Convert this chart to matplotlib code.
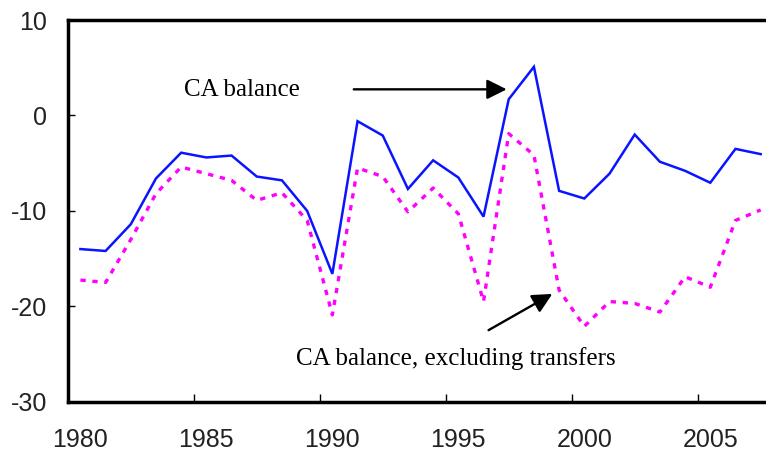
import matplotlib
matplotlib.use("Agg")
import matplotlib.pyplot as plt

years = list(range(1980, 2008))
ca_balance = [
    -14.0, -14.2, -11.4, -6.6, -3.9, -4.4, -4.2, -6.4, -6.8, -10.0,
    -16.6, -0.6, -2.1, -7.7, -4.7, -6.5, -10.6, 1.7, 5.1, -7.9,
    -8.7, -6.1, -2.0, -4.85, -5.8, -7.05, -3.5, -4.05,
]
ca_excl_transfers = [
    -17.25, -17.5, -13.0, -8.2, -5.4, -6.1, -6.8, -8.9, -8.1, -11.0,
    -20.9, -5.5, -6.4, -10.1, -7.6, -10.3, -19.5, -1.9, -4.15, -18.3,
    -22.1, -19.5, -19.7, -20.6, -16.9, -18.0, -11.0, -9.9,
]
label_years = [1980, 1985, 1990, 1995, 2000, 2005]
y_ticks = [-30, -20, -10, 0, 10]

fig = plt.figure(figsize=(7.66, 4.55), dpi=100)
ax = fig.add_axes([0.0885, 0.1171, 0.921, 0.8388])

ax.plot(years, ca_balance, color="#0a14ff", lw=1.8, solid_joinstyle="miter")
ax.plot(years, ca_excl_transfers, color="#ff00ff", lw=2.4,
        linestyle=(0, (1.6, 2.0)), dash_capstyle="butt")

ax.set_xlim(1979.5, 2007.5)
ax.set_ylim(-30, 10)

# category boundaries carry the tick marks, labels sit on the categories
ax.set_xticks([y - 0.5 for y in label_years[1:]])
ax.set_xticklabels([])
ax.set_xticks(label_years, minor=True)
ax.set_xticklabels([str(y) for y in label_years], minor=True,
                   family="Liberation Sans", fontsize=18, color="#222222")
ax.tick_params(axis="x", which="major", direction="in", length=6, width=1)
ax.tick_params(axis="x", which="minor", length=0, pad=19)

ax.set_yticks(y_ticks)
ax.set_yticklabels([str(v) for v in y_ticks], family="Liberation Sans",
                   fontsize=18, color="#222222")
ax.tick_params(axis="y", direction="in", length=5, width=1, pad=15)

for side in ["left", "bottom", "top", "right"]:
    ax.spines[side].set_linewidth(2.5)

serif = "Liberation Serif"
ax.text(1986.4, 2.0, "CA balance", ha="center", va="baseline",
        family=serif, fontsize=18)
ax.text(1994.9, -26.1, "CA balance, excluding transfers", ha="center",
        va="baseline", family=serif, fontsize=18)

arrow = dict(arrowstyle="-|>,head_length=0.6,head_width=0.3", color="black",
             lw=1.7, mutation_scale=20, shrinkA=0, shrinkB=0)
ax.annotate("", xy=(1996.92, 2.74), xytext=(1990.85, 2.74), arrowprops=arrow)
ax.annotate("", xy=(1998.73, -18.7), xytext=(1996.2, -22.5), arrowprops=arrow)

fig.savefig("out.png", dpi=100)
